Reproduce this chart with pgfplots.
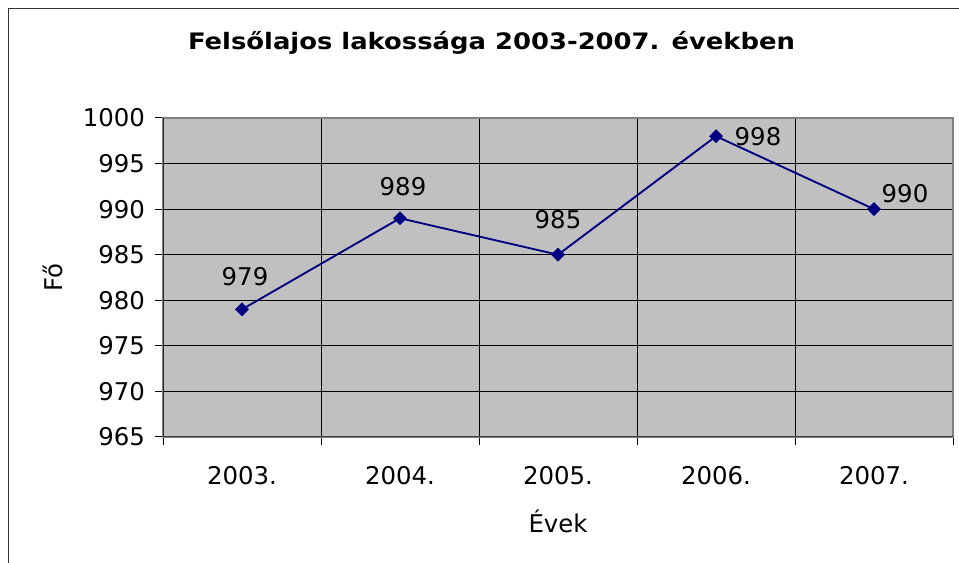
\documentclass[border=0pt]{standalone}
\usepackage{pgfplots}
\pgfplotsset{compat=1.18}
\usepackage{pgfplotstable}
\usepackage{fontspec}
\setmainfont{DejaVu Sans}
\definecolor{plotgray}{HTML}{C0C0C0}
\definecolor{navyline}{HTML}{000080}
\pgfplotstableread{
x y dx dy
0 979 3 33
1 989 3 32
2 985 0 35
3 998 42 0
4 990 31 16
}\datatable
\begin{document}
\begin{tikzpicture}
\begin{scope}[x=0.75pt,y=0.75pt]
\path[use as bounding box] (0,0) rectangle (959,563);
\draw[black!80, line width=1.1pt] (8.5,563-8.5) -- (1000,563-8.5);
\draw[black!80, line width=1.1pt] (8.5,563-8.5) -- (8.5,-50);
\node[anchor=base, font=\fontsize{17}{20}\selectfont\bfseries] at (491.5,563-50) {\scalebox{1.14}[1]{Felsőlajos lakossága 2003-2007. években}};
\end{scope}
\begin{axis}[
  at={(122.25pt,94.5pt)}, anchor=south west,
  scale only axis, width=592.5pt, height=239.25pt,
  xmin=-0.5, xmax=4.5, ymin=965, ymax=1000,
  ytick={965,970,...,1000},
  xtick={-0.5,0.5,...,4.5}, xticklabels={},
  extra x ticks={0,1,2,3,4},
  extra x tick labels={2003.,2004.,2005.,2006.,2007.},
  extra x tick style={major tick length=0pt, grid=none},
  xmajorgrids, ymajorgrids,
  grid style={black, line width=0.75pt},
  tick align=outside, tick pos=left,
  major tick length=6pt,
  tick style={black, line width=0.75pt},
  axis background/.style={fill=plotgray},
  axis line style={black!50, line width=1.3pt},
  /pgf/number format/assume math mode=true,
  /pgf/number format/1000 sep={},
  tick label style={font=\fontsize{18.3}{22}\selectfont},
  yticklabel style={xshift=-4pt},
  xticklabel style={yshift=-18.5pt},
  label style={font=\fontsize{18.3}{22}\selectfont},
  xlabel={Évek},
  xlabel style={at={(axis description cs:0.5,0)}, anchor=base, yshift=-71.25pt},
  ylabel={Fő},
  ylabel style={at={(axis description cs:-0.1278,0.5)}, anchor=base},
  nodes near coords,
  point meta=explicit symbolic,
  visualization depends on={\thisrow{dx} \as \dx},
  visualization depends on={\thisrow{dy} \as \dy},
  every node near coord/.append style={anchor=center, font=\fontsize{18.3}{22}\selectfont, black, xshift=0.75*\dx pt, yshift=0.75*\dy pt},
]
\addplot[navyline, line width=1.4pt, mark=square*, mark size=3pt, mark options={rotate=45, fill=navyline}] table[x=x, y=y, meta=y] {\datatable};
\draw[black!85, line width=1.1pt] (rel axis cs:0,1) -- (rel axis cs:0,0);
\draw[black!75, line width=1.6pt] (rel axis cs:0,0) -- (rel axis cs:1,0);
\end{axis}
\end{tikzpicture}
\end{document}
